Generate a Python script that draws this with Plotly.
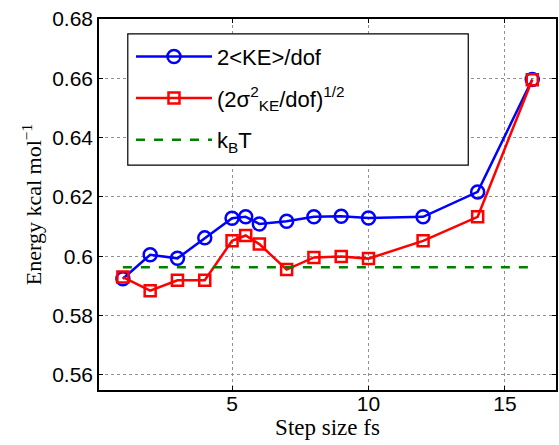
import plotly.graph_objects as go

step = [1, 2, 3, 4, 5, 5.5, 6, 7, 8, 9, 10, 12, 14, 16]
ke_mean = [0.5924, 0.6005, 0.5993, 0.6062, 0.6128, 0.6133, 0.6109, 0.6118,
           0.6133, 0.6135, 0.6129, 0.6133, 0.6217, 0.6596]
ke_sigma = [0.5930, 0.5884, 0.5919, 0.5919, 0.6052, 0.6070, 0.6041, 0.5955,
            0.5996, 0.5999, 0.5992, 0.6052, 0.6133, 0.6595]
kbt_x = [1, 16]
kbt_y = [0.5963, 0.5963]

names = ["2<KE>/dof", "(2σ<sup>2</sup><sub>KE</sub>/dof)<sup>1/2</sup>", "k<sub>B</sub>T"]

fig = go.Figure()
fig.add_trace(go.Scatter(x=step, y=ke_mean, mode="lines+markers", name=names[0],
                         legendgroup="a",
                         line=dict(color="#0000ff", width=2.5),
                         marker=dict(symbol="circle-open", size=13, color="#0000ff",
                                     line=dict(width=2.5, color="#0000ff"))))
fig.add_trace(go.Scatter(x=step, y=ke_sigma, mode="lines+markers", name=names[1],
                         legendgroup="b",
                         line=dict(color="#ff0000", width=2.5),
                         marker=dict(symbol="square-open", size=11, color="#ff0000",
                                     line=dict(width=2.5, color="#ff0000"))))
fig.add_trace(go.Scatter(x=kbt_x, y=kbt_y, mode="lines", name=names[2],
                         legendgroup="c",
                         line=dict(color="#008000", width=2.5, dash="dash")))

axis_common = dict(showline=True, linecolor="black", linewidth=1.5, mirror="ticks",
                   ticks="inside", ticklen=4, tickcolor="black",
                   showgrid=True, gridcolor="#909090", griddash="dot", gridwidth=1,
                   zeroline=False,
                   tickfont=dict(family="Liberation Sans, Arial", size=21, color="black"))

# legend frame (opaque box, like the original)
fig.add_shape(type="rect", xref="paper", yref="paper",
              x0=0.063, x1=0.808, y0=0.606, y1=0.96,
              fillcolor="white", line=dict(color="black", width=1.2), layer="above")

fig.update_layout(
    width=559, height=445,
    margin=dict(l=99, r=1, t=19, b=55),
    plot_bgcolor="white", paper_bgcolor="white",
    showlegend=True,
    legend=dict(x=0.07, y=0.955, xanchor="left", yanchor="top",
                bgcolor="rgba(0,0,0,0)", borderwidth=0,
                font=dict(family="Liberation Sans, Arial", size=22, color="black"),
                itemwidth=76, tracegroupgap=10),
    xaxis=dict(range=[0.125, 16.87], tickvals=[5, 10, 15],
               ticklabelstandoff=-6,
               title=dict(text="Step size fs", standoff=0,
                          font=dict(family="Liberation Serif, Times New Roman", size=23, color="black")),
               **axis_common),
    yaxis=dict(range=[0.5549, 0.68], tickvals=[0.56, 0.58, 0.60, 0.62, 0.64, 0.66, 0.68],
               ticktext=["0.56", "0.58", "0.6", "0.62", "0.64", "0.66", "0.68"],
               title=dict(text="Energy kcal mol<sup>−1</sup>", standoff=4,
                          font=dict(family="Liberation Serif, Times New Roman", size=22, color="black")),
               **axis_common),
)

fig.write_html("out.html")
